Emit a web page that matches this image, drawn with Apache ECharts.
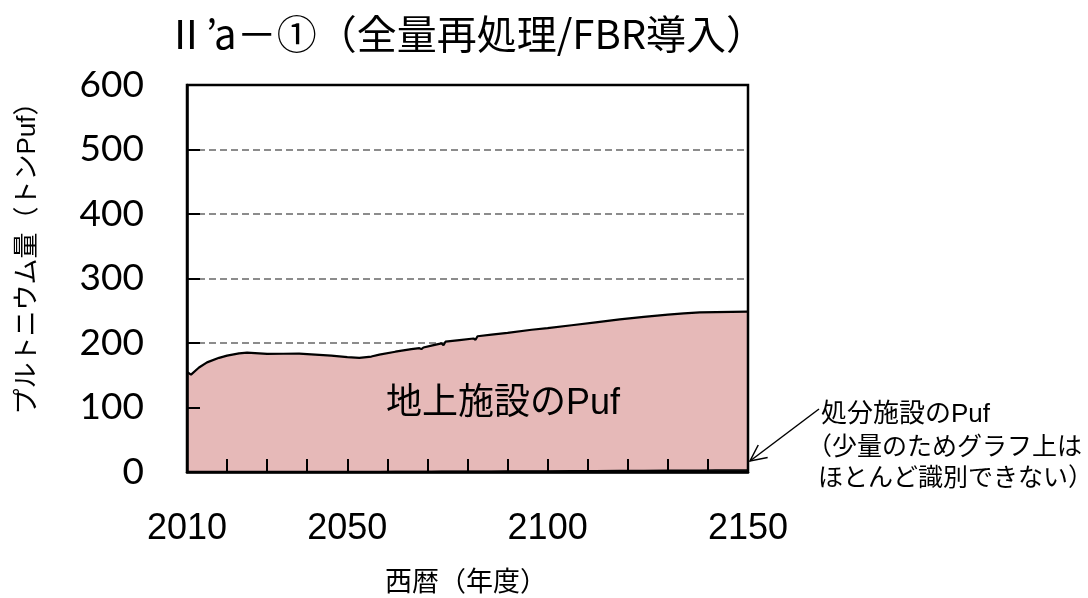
<!DOCTYPE html>
<html>
<head>
<meta charset="utf-8">
<script src="https://cdn.jsdelivr.net/npm/echarts@6/dist/echarts.min.js"></script>
<style>
html,body{margin:0;padding:0;background:#fff;}
#c{width:1088px;height:598px;}
</style>
</head>
<body>
<div id="c"></div>
<script>
// ---- data ----
var years = [2010, 2011, 2013, 2015, 2018, 2020, 2023, 2025, 2028, 2030, 2034, 2038, 2042, 2046, 2050, 2053, 2056, 2058, 2062, 2066, 2068, 2068.5, 2069, 2071, 2073.5, 2074, 2074.5, 2078, 2081.5, 2082, 2082.5, 2086, 2090, 2096, 2100, 2106, 2112, 2118, 2124, 2130, 2134, 2138, 2142, 2146, 2150];
var disposalPuf = [0, 0, 0, 0, 0, 0, 0, 0, 0, 0, 0, 0, 0.1, 0.2, 0.3, 0.4, 0.5, 0.5, 0.6, 0.7, 0.8, 0.8, 0.8, 0.9, 1.0, 1.0, 1.0, 1.1, 1.2, 1.2, 1.2, 1.3, 1.4, 1.6, 1.7, 1.9, 2.1, 2.3, 2.5, 2.7, 2.8, 2.9, 3.0, 3.1, 3.2];
var groundPuf = [155, 151, 162, 170, 177, 180.5, 184, 185, 184, 183, 183.3, 183.5, 181.9, 180.3, 177.7, 176.6, 178.5, 181.5, 185.9, 189.8, 191.2, 189.7, 192.2, 195.1, 198.5, 195.5, 201, 203.4, 205.8, 203.8, 209.3, 211.7, 214.3, 218.9, 221.3, 225.6, 229.9, 234.2, 238, 241.3, 243.2, 244.6, 245, 245.2, 245.3];
var seriesNames = ['処分施設のPuf', '地上施設のPuf'];
var xLabelYears = [2010, 2050, 2100, 2150];
var titleText = 'Ⅱ’a－①（全量再処理/FBR導入）';
var yAxisTitle = 'プルトニウム量（トンPuf）';
var xAxisTitle = '西暦（年度）';
var noteLines = ['処分施設のPuf', '（少量のためグラフ上は', 'ほとんど識別できない）'];

// stacked top (disposal below ground)
var stackedTop = years.map(function (y, i) { return [y, groundPuf[i] + disposalPuf[i]]; });
var disposalPts = years.map(function (y, i) { return [y, disposalPuf[i]]; });

var chart = echarts.init(document.getElementById('c'), null, {renderer: 'canvas'});
var JP = '"Liberation Sans", "Noto Sans CJK JP", sans-serif';

// arrow geometry (annotation)
var aS = [819, 409], aT = [750, 461];
var dx = aS[0] - aT[0], dy = aS[1] - aT[1], L = Math.sqrt(dx * dx + dy * dy);
var ux = dx / L, uy = dy / L, hl = 18, ang = Math.PI / 7;
function rot(x, y, a) { return [x * Math.cos(a) - y * Math.sin(a), x * Math.sin(a) + y * Math.cos(a)]; }
var h1 = rot(ux, uy, ang), h2 = rot(ux, uy, -ang);

chart.setOption({
  animation: false,
  backgroundColor: '#fff',
  title: {
    text: titleText,
    left: 461, top: 9, textAlign: 'center',
    textStyle: {fontFamily: '"Noto Sans CJK JP", sans-serif', fontSize: 40, fontWeight: 'normal', color: '#000'}
  },
  grid: {
    left: 187, right: 340, top: 85, bottom: 126,
    show: true, borderColor: '#000', borderWidth: 2.5, backgroundColor: 'transparent', z: 10
  },
  xAxis: {
    type: 'value', min: 2010, max: 2150, interval: 10, z: 10,
    axisLine: {show: true, onZero: false, lineStyle: {color: '#000', width: 2.5}},
    axisTick: {show: true, inside: true, length: 13, lineStyle: {color: '#000', width: 2}},
    splitLine: {show: false},
    axisLabel: {
      margin: 39, color: '#000', fontSize: 36, fontFamily: '"Liberation Sans", Arial, sans-serif',
      showMinLabel: true, showMaxLabel: true,
      formatter: function (v) { return xLabelYears.indexOf(v) >= 0 ? String(v) : ''; }
    }
  },
  yAxis: [{
    type: 'value', min: 0, max: 600, interval: 100, position: 'left',
    axisLine: {show: false}, axisTick: {show: false}, axisLabel: {show: false},
    splitLine: {show: true, lineStyle: {color: '#8c8c8c', width: 2, type: [7, 4]}}
  }, {
    type: 'value', min: 0, max: 600, interval: 100, position: 'left', z: 10,
    axisLine: {show: true, lineStyle: {color: '#000', width: 2.5}},
    axisTick: {show: true, inside: true, length: 13, lineStyle: {color: '#000', width: 2}},
    splitLine: {show: false},
    axisLabel: {margin: 43, color: '#000', fontSize: 37, fontFamily: 'Lato, "Open Sans", sans-serif'}
  }],
  series: [{
    name: seriesNames[1], type: 'line', yAxisIndex: 0, z: 2,
    data: stackedTop, symbol: 'none', smooth: false,
    lineStyle: {color: '#000', width: 2.2},
    areaStyle: {color: '#E6B9B8', opacity: 1}
  }, {
    name: seriesNames[0], type: 'line', yAxisIndex: 0, z: 3,
    data: disposalPts, symbol: 'none', smooth: false,
    lineStyle: {color: '#000', width: 1.5},
    areaStyle: {color: '#3a3a3a', opacity: 1}
  }],
  graphic: [
    {type: 'text', x: 28, y: 252, rotation: Math.PI / 2,
     style: {text: yAxisTitle, fontSize: 26, fontFamily: JP, fill: '#000', align: 'center', verticalAlign: 'middle'}},
    {type: 'text', x: 466, y: 584,
     style: {text: xAxisTitle, fontSize: 27, fontFamily: JP, fill: '#000', align: 'center', verticalAlign: 'middle'}},
    {type: 'text', x: 503, y: 404, z: 20,
     style: {text: seriesNames[1], fontSize: 36, fontFamily: JP, fill: '#000', align: 'center', verticalAlign: 'middle'}},
    {type: 'text', x: 821, y: 415,
     style: {text: noteLines[0], fontSize: 26, fontFamily: JP, fill: '#000', align: 'left', verticalAlign: 'middle'}},
    {type: 'text', x: 807, y: 448,
     style: {text: noteLines[1], fontSize: 25, fontFamily: JP, fill: '#000', align: 'left', verticalAlign: 'middle'}},
    {type: 'text', x: 818, y: 479,
     style: {text: noteLines[2], fontSize: 25, fontFamily: JP, fill: '#000', align: 'left', verticalAlign: 'middle'}},
    {type: 'line', z: 20, shape: {x1: aS[0], y1: aS[1], x2: aT[0], y2: aT[1]}, style: {stroke: '#000', lineWidth: 1.5}},
    {type: 'polyline', z: 20, shape: {points: [[aT[0] + h1[0] * hl, aT[1] + h1[1] * hl], aT, [aT[0] + h2[0] * hl, aT[1] + h2[1] * hl]]},
     style: {stroke: '#000', lineWidth: 1.5, fill: null}}
  ]
});
</script>
</body>
</html>
